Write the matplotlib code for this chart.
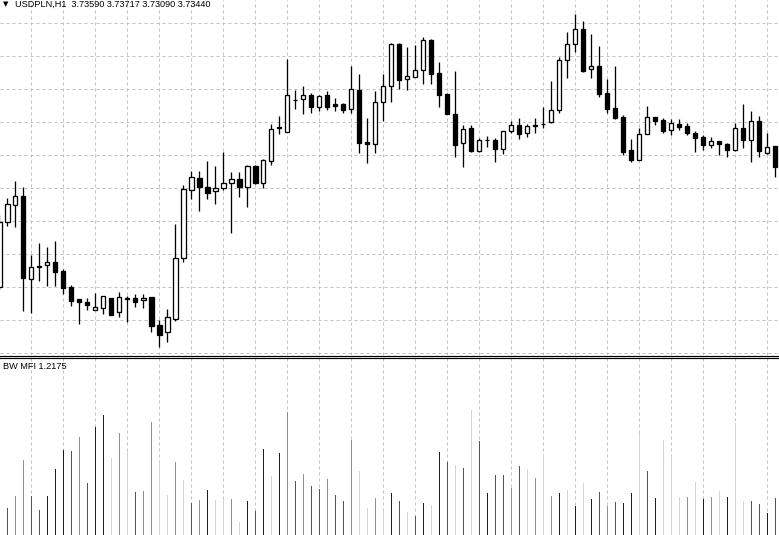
import numpy as np
import matplotlib
matplotlib.use("Agg")
import matplotlib.pyplot as plt
from matplotlib.lines import Line2D

# ---------------- data ----------------
symbol_header = "USDPLN,H1  3.73590 3.73717 3.73090 3.73440"
indicator_header = "BW MFI 1.2175"

bar_index = list(range(-1, 97))

opens = [3.72133, 3.72777, 3.72947, 3.73040, 3.72207, 3.72340, 3.72347, 3.72377, 3.72287, 3.72133,
         3.72007, 3.71977, 3.71897, 3.71917, 3.72020, 3.71877, 3.72013, 3.72020, 3.71997, 3.72030,
         3.71750, 3.71683, 3.71813, 3.72417, 3.73097, 3.73220, 3.73127, 3.73087, 3.73117, 3.73167,
         3.73207, 3.73127, 3.73343, 3.73167, 3.73387, 3.73730, 3.73677, 3.74000, 3.74007, 3.74047,
         3.73933, 3.74047, 3.73957, 3.73957, 3.73907, 3.74097, 3.73580, 3.73563, 3.73977, 3.74137,
         3.74560, 3.74207, 3.74233, 3.74297, 3.74597, 3.74270, 3.74060, 3.73860, 3.73567, 3.73720,
         3.73487, 3.73597, 3.73597, 3.73507, 3.73687, 3.73747, 3.73667, 3.73747, 3.73757, 3.73783,
         3.73897, 3.74397, 3.74557, 3.74707, 3.74307, 3.74337, 3.74067, 3.73917, 3.73827, 3.73497,
         3.73403, 3.73663, 3.73827, 3.73797, 3.73703, 3.73757, 3.73737, 3.73667, 3.73627, 3.73547,
         3.73587, 3.73557, 3.73497, 3.73717, 3.73597, 3.73787, 3.73473, 3.73540]
highs = [3.72850, 3.73017, 3.73190, 3.73133, 3.72450, 3.72567, 3.72527, 3.72590, 3.72313, 3.72150,
         3.72007, 3.72020, 3.72067, 3.72043, 3.72020, 3.72077, 3.72043, 3.72060, 3.72057, 3.72030,
         3.71800, 3.71907, 3.72760, 3.73147, 3.73293, 3.73293, 3.73390, 3.73343, 3.73480, 3.73283,
         3.73283, 3.73350, 3.73350, 3.73407, 3.73757, 3.73840, 3.74410, 3.74100, 3.74140, 3.74067,
         3.74047, 3.74090, 3.74017, 3.73967, 3.74340, 3.74260, 3.73823, 3.74090, 3.74260, 3.74567,
         3.74570, 3.74530, 3.74553, 3.74630, 3.74607, 3.74380, 3.74067, 3.74290, 3.73747, 3.73747,
         3.73620, 3.73640, 3.73620, 3.73687, 3.73793, 3.73820, 3.73760, 3.73820, 3.73930, 3.74190,
         3.74433, 3.74677, 3.74857, 3.74787, 3.74660, 3.74537, 3.74210, 3.74340, 3.73847, 3.73607,
         3.73720, 3.73937, 3.73827, 3.73817, 3.73807, 3.73810, 3.73767, 3.73687, 3.73647, 3.73633,
         3.73587, 3.73573, 3.73767, 3.73957, 3.73887, 3.73837, 3.73673, 3.73540]
lows = [3.72100, 3.72743, 3.72727, 3.71893, 3.71873, 3.72193, 3.72143, 3.72143, 3.72057, 3.71943,
        3.71763, 3.71903, 3.71897, 3.71860, 3.71853, 3.71833, 3.71783, 3.71933, 3.71923, 3.71683,
        3.71533, 3.71580, 3.71793, 3.72383, 3.73007, 3.72893, 3.73007, 3.72957, 3.73100, 3.72667,
        3.73033, 3.72927, 3.73157, 3.73117, 3.73353, 3.73663, 3.73677, 3.73913, 3.73863, 3.73873,
        3.73893, 3.73903, 3.73893, 3.73873, 3.73873, 3.73473, 3.73373, 3.73473, 3.73793, 3.73983,
        3.74110, 3.74103, 3.74227, 3.74163, 3.74163, 3.73933, 3.73863, 3.73433, 3.73333, 3.73483,
        3.73480, 3.73533, 3.73383, 3.73463, 3.73667, 3.73607, 3.73633, 3.73673, 3.73723, 3.73773,
        3.73873, 3.74223, 3.74480, 3.74283, 3.74223, 3.74033, 3.73873, 3.73807, 3.73447, 3.73383,
        3.73400, 3.73663, 3.73750, 3.73673, 3.73650, 3.73703, 3.73650, 3.73483, 3.73503, 3.73523,
        3.73447, 3.73427, 3.73493, 3.73523, 3.73383, 3.73433, 3.73457, 3.73233]
closes = [3.72783, 3.72957, 3.73040, 3.72217, 3.72327, 3.72327, 3.72377, 3.72283, 3.72117, 3.71987,
          3.71977, 3.71953, 3.71930, 3.72037, 3.71853, 3.72027, 3.72020, 3.71983, 3.72020, 3.71743,
          3.71653, 3.71830, 3.72417, 3.73107, 3.73230, 3.73127, 3.73073, 3.73117, 3.73167, 3.73207,
          3.73127, 3.73343, 3.73167, 3.73397, 3.73707, 3.73717, 3.74047, 3.74000, 3.74047, 3.73933,
          3.74037, 3.73933, 3.73943, 3.73903, 3.74107, 3.73573, 3.73563, 3.73977, 3.74137, 3.74560,
          3.74203, 3.74237, 3.74297, 3.74597, 3.74263, 3.74053, 3.73863, 3.73553, 3.73710, 3.73493,
          3.73597, 3.73597, 3.73507, 3.73687, 3.73747, 3.73663, 3.73737, 3.73737, 3.73757, 3.73897,
          3.74403, 3.74557, 3.74707, 3.74293, 3.74337, 3.74063, 3.73913, 3.73823, 3.73483, 3.73403,
          3.73657, 3.73827, 3.73793, 3.73693, 3.73767, 3.73733, 3.73673, 3.73623, 3.73553, 3.73587,
          3.73557, 3.73503, 3.73717, 3.73597, 3.73787, 3.73493, 3.73527, 3.73333]

mfi_index = list(range(0, 97))
mfi_values = [0.89, 1.28, 2.47, 1.28, 0.83, 1.28, 2.17, 2.80, 2.76, 3.22,
              1.72, 3.55, 3.95, 2.53, 3.36, 2.73, 1.41, 1.45, 3.72, 2.40,
              1.32, 2.40, 1.81, 1.05, 1.15, 1.48, 1.15, 1.15, 1.18, 0.43,
              1.12, 0.79, 2.83, 1.94, 2.70, 4.05, 1.78, 2.01, 1.61, 1.51,
              1.84, 1.32, 1.12, 3.13, 2.11, 0.89, 1.22, 0.76, 1.38, 1.12,
              0.76, 0.63, 1.05, 0.99, 2.73, 2.40, 2.30, 2.20, 4.11, 3.09,
              1.38, 1.97, 1.97, 1.55, 2.27, 2.17, 1.88, 2.66, 1.28, 1.38,
              1.48, 0.95, 1.71, 1.18, 1.41, 0.95, 1.09, 1.05, 1.38, 3.36,
              2.11, 1.22, 3.13, 2.53, 1.25, 1.25, 1.74, 1.18, 1.25, 1.45,
              1.25, 3.68, 1.12, 1.12, 1.02, 0.72, 1.22]
# G = MFI up / volume up, B = MFI down / volume down, U = MFI up / volume down, P = MFI down / volume up
mfi_kind = list("BGGBBUUUBGBUUPGPBGGPPGPBGUPPGPUB"
                "UPUGBGBBGBBGPPGPUBPBUPUBPBPBUBBG"
                "BPGPGUPUPUBGBUUPBUPPPGPUGPUPPBBU")

# ---------------- styles ----------------
W, H = 779, 535
DPI = 100
PX = 72.0 / DPI
kind_color = {"G": "#22dd22", "B": "#8b4513", "U": "#0000ff", "P": "#ffc0cb"}
grid_color = "#c0c0c0"
grid_style = (0, (3, 3))

fig = plt.figure(figsize=(W / DPI, H / DPI), dpi=DPI, facecolor="white")

top_px = 355.0
sep_px = 358.0
ax = fig.add_axes([0, 1 - top_px / H, 1, top_px / H])
ax2 = fig.add_axes([0, 0, 1, (H - sep_px) / H])

x0, step = 7.3, 8.0
xlim = (-x0 / step, (W - x0) / step)

# price axis mapping: 1 px = 0.0001
p_top = 3.75
ax.set_xlim(*xlim)
ax.set_ylim(p_top - top_px * 0.0001, p_top)
hgrid = p_top - 0.0001 * (22.7 + 33.0 * np.arange(11))
for yv in hgrid:
    ax.axhline(yv, color=grid_color, lw=1 * PX, ls=grid_style, zorder=0)
vgrid = np.arange(3, 97, 4)
for xv in vgrid:
    ax.axvline(xv, color=grid_color, lw=1 * PX, ls=grid_style, zorder=0)
    ax2.axvline(xv, color=grid_color, lw=1 * PX, ls=grid_style, zorder=0)

xs = np.array(bar_index, dtype=float)
o = np.array(opens); h = np.array(highs); l = np.array(lows); c = np.array(closes)
ax.vlines(xs, l, h, color="black", lw=1.3 * PX, zorder=2)
bull = c >= o
body_w = 0.55
bottoms = np.minimum(o, c)
heights = np.abs(c - o)
ax.bar(xs[bull], heights[bull], bottom=bottoms[bull], width=body_w,
       facecolor="white", edgecolor="black", linewidth=1.3 * PX, zorder=3)
ax.bar(xs[~bull], heights[~bull], bottom=bottoms[~bull], width=body_w,
       facecolor="black", edgecolor="black", linewidth=1.3 * PX, zorder=3)

# indicator panel
ax2.set_xlim(*xlim)
ax2.set_ylim(0, (H - sep_px) * 0.0329)
colors = [kind_color[k] for k in mfi_kind]
ax2.bar(mfi_index, mfi_values, width=0.16, color=colors, linewidth=0, zorder=2)

for a in (ax, ax2):
    a.set_xticks([]); a.set_yticks([])
    for s in a.spines.values():
        s.set_visible(False)
    a.set_facecolor("none")

# separator double line
for ypx in (355.6, 357.6):
    fig.add_artist(Line2D([0, 1], [1 - ypx / H, 1 - ypx / H], color="black",
                          lw=1.2 * PX, transform=fig.transFigure))

fs = 6.6
fam = ["Liberation Sans", "DejaVu Sans"]
fig.text(3 / W, 1 - 4.6 / H, "\u25bc", fontsize=5.0, color="black", va="center", ha="left",
         family=["DejaVu Sans"])
fig.text(15 / W, 1 - 4.4 / H, symbol_header, fontsize=fs, color="black", va="center", ha="left",
         family=fam)
fig.text(3 / W, 1 - 366.5 / H, indicator_header, fontsize=fs, color="black", va="center", ha="left",
         family=fam)

fig.savefig("out.png", dpi=DPI, facecolor="white")
